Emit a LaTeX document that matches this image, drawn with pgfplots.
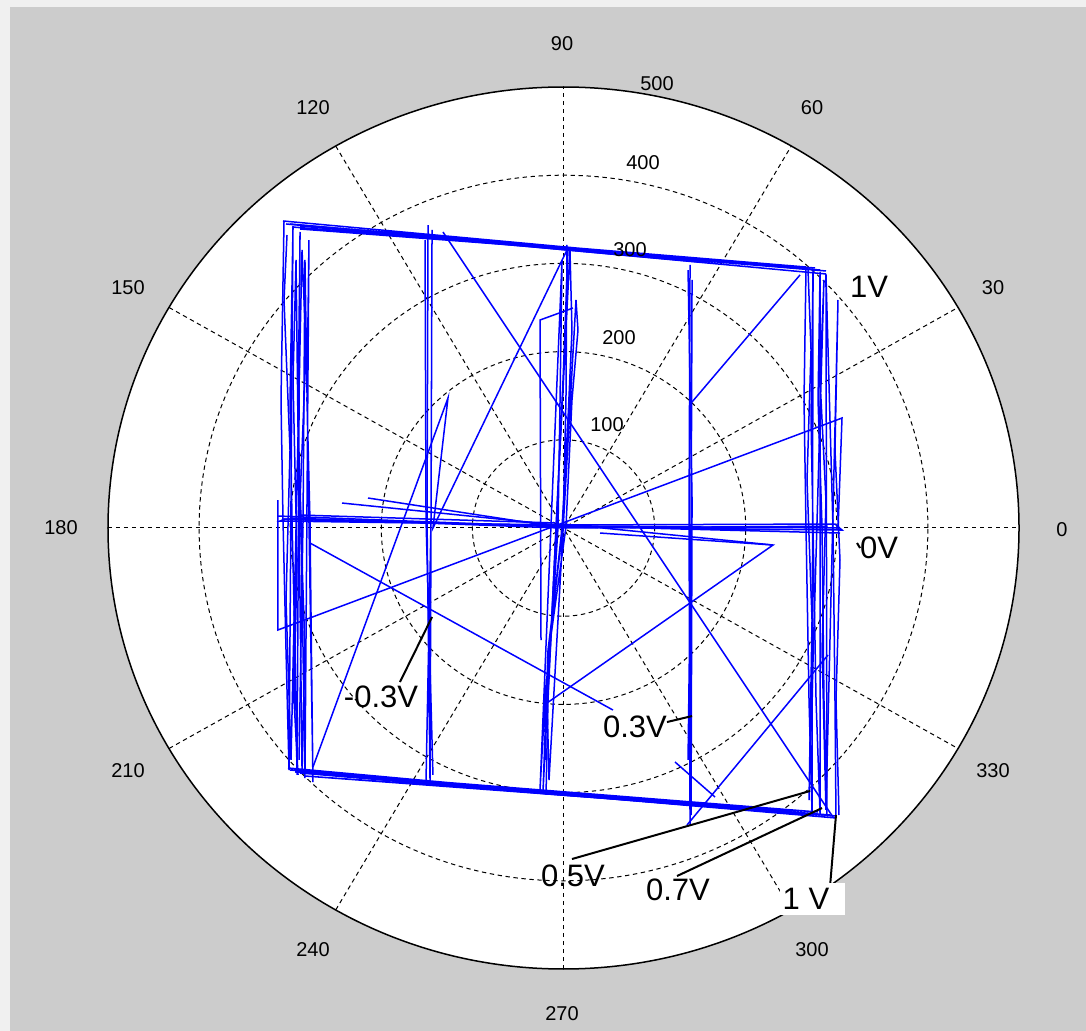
\documentclass[border=0pt]{standalone}
\usepackage{pgfplots}
\pgfplotsset{compat=1.18}
\usepackage{fontspec}
\setmainfont{Liberation Sans}
\definecolor{figgray}{RGB}{204,204,204}
\definecolor{edgecol}{RGB}{240,240,240}
\tikzset{gridline/.style={black, line width=0.5pt, dash pattern=on 2.2pt off 1.8pt}}
\pgfplotsset{trc/.style={color={rgb,255:red,0;green,0;blue,255}, line width=0.75pt, mark=none, forget plot},
  call/.style={black, line width=1pt, mark=none, forget plot}}
\begin{document}
\begin{tikzpicture}
\begin{scope}[x=0.5pt,y=-0.5pt]
\fill[edgecol] (0,0) rectangle (1086,1031);
\fill[figgray] (10,7) rectangle (1086,1031);
\end{scope}
\begin{axis}[at={(281.75pt,-264pt)}, anchor=center, scale only axis,
  width=455.5pt, height=441pt, xmin=-500, xmax=500, ymin=-500, ymax=500,
  axis lines=none, ticks=none, clip=false]
\fill[white] (axis cs:0,0) ellipse [x radius=500, y radius=500];
% grid
\draw[gridline] (axis cs:0,0) ellipse [x radius=100, y radius=100];
\draw[gridline] (axis cs:0,0) ellipse [x radius=200, y radius=200];
\draw[gridline] (axis cs:0,0) ellipse [x radius=300, y radius=300];
\draw[gridline] (axis cs:0,0) ellipse [x radius=400, y radius=400];
\draw[gridline] (axis cs:-500,0) -- (axis cs:500,0);
\draw[gridline] (axis cs:0,-500) -- (axis cs:0,500);
\draw[gridline] (axis cs:-433.01,-250) -- (axis cs:433.01,250);
\draw[gridline] (axis cs:-250,-433.01) -- (axis cs:250,433.01);
\draw[gridline] (axis cs:-433.01,250) -- (axis cs:433.01,-250);
\draw[gridline] (axis cs:-250,433.01) -- (axis cs:250,-433.01);
% top edge
\addplot[trc] coordinates {(-307.9,348.1) (288.1,291.4) (-298.0,341.3) (276.1,294.8) (-289.2,339.0) (266.2,295.9) (-304.6,344.7) (288.1,288.0)};
\addplot[trc] coordinates {(-300.2,344.7) (-3.8,317.5) (281.6,292.5)};
\addplot[trc] coordinates {(-289.2,342.4) (149.8,301.6)};
% bottom edge
\addplot[trc] coordinates {(-302.4,-272.1) (299.1,-328.8) (-294.7,-276.6) (292.5,-325.4) (-283.8,-281.2) (279.4,-322.0) (-300.2,-274.4) (299.1,-326.5)};
\addplot[trc] coordinates {(-289.2,-277.8) (-3.8,-302.7) (287.0,-325.4)};
\addplot[trc] coordinates {(-157.5,-289.1) (149.8,-315.2)};
% left band
\addplot[trc] coordinates {(-306.8,346.9) (-310.1,145.1) (-307.9,9.1) (-304.6,-138.3) (-301.3,-274.4) (-296.9,342.4) (-300.2,145.1) (-298.0,9.1) (-294.7,-138.3) (-292.5,-280.0) (-289.2,335.6) (-291.4,122.5) (-288.1,9.1) (-285.9,-138.3) (-283.8,-283.5) (-279.4,326.5) (-281.6,145.1) (-278.3,9.1) (-276.1,-195.0) (-275.0,-288.0) (-283.8,303.9) (-285.9,9.1) (-290.3,-263.0)};
\addplot[trc] coordinates {(-303.5,332.2) (-306.8,258.5) (-300.2,88.4) (-304.6,-81.6) (-299.1,-263.0) (-287.0,315.2) (-282.7,201.8) (-289.2,31.7) (-283.8,-138.3) (-287.0,-274.4) (-293.6,303.9) (-296.9,167.8) (-292.5,-36.3) (-295.8,-195.0) (-291.4,-280.0)};
% right band
\addplot[trc] coordinates {(266.2,294.8) (264.0,145.1) (266.2,0) (269.5,-195.0) (272.8,-322.0) (273.9,292.5) (271.7,122.5) (273.9,0) (277.2,-195.0) (281.6,-324.3) (281.6,290.3) (279.4,145.1) (283.8,0) (285.9,-195.0) (289.2,-326.5) (288.1,288.0) (292.5,122.5) (295.8,0) (298.0,-195.0) (299.1,-328.8)};
\addplot[trc] coordinates {(268.4,292.5) (271.7,201.8) (267.3,54.4) (272.8,-104.3) (269.5,-308.4) (285.9,281.2) (281.6,167.8) (288.1,31.7) (283.8,-138.3) (288.1,-319.7) (301.3,258.5) (298.0,88.4) (303.5,-36.3) (299.1,-195.0) (302.4,-325.4)};
% centre horizontal band
\addplot[trc] coordinates {(-313.4,13.6) (-0.5,1.1) (305.7,-2.3) (298.0,4.5) (-0.5,3.4) (-311.2,7.9) (-305.7,10.2) (303.5,-5.7)};
\addplot[trc] coordinates {(-300.2,11.3) (-3.8,0) (290.0,2.0)};
\addplot[trc] coordinates {(-309.0,10.2) (-3.8,2.3) (301.3,0)};
\addplot[trc] coordinates {(-289.2,14.7) (-9.3,5.7)};
% centre vertical bundle
\addplot[trc] coordinates {(3.8,320.9) (2.7,145.1) (-0.5,1.1) (-17.0,-138.3) (-22.5,-299.3) (7.1,315.2) (9.3,224.5) (4.9,122.5) (-1.6,1.1) (-14.8,-127.0) (-20.3,-195.0) (-25.8,-297.1) (-1.6,303.9) (-3.8,145.1) (-6.0,1.1) (-18.1,-195.0) (-15.9,-285.7) (13.7,258.5) (15.9,224.5) (9.3,145.1) (2.7,1.1) (-15.9,-138.3) (-20.3,-263.0)};
\addplot[trc] coordinates {(4.9,315.2) (-0.5,167.8) (-8.2,1.1) (-17.0,-195.0) (-19.2,-302.7)};
% -0.3 level vertical
\addplot[trc] coordinates {(-148.7,343.5) (-149.8,9.1) (-146.5,-288.0) (-144.3,337.9) (-145.4,9.1) (-150.9,-285.7)};
\addplot[trc] coordinates {(-152.0,326.5) (-150.9,9.1) (-143.3,-280.0)};
% 0.3 level vertical
\addplot[trc] coordinates {(138.9,298.2) (137.8,9.1) (138.9,-336.7) (141.1,281.2) (140.0,9.1) (136.7,-263.0)};
\addplot[trc] coordinates {(136.7,292.5) (141.1,31.7) (140.0,-325.4)};
\addplot[trc] coordinates {(10.4,249.4) (-25.8,235.8) (-24.7,-127.0)};
% diagonals
\addplot[trc] coordinates {(-132.3,335.6) (295.8,-327.7)};
\addplot[trc] coordinates {(3.8,315.2) (-143.3,0) (-126.8,147.4) (-275.0,-271.0)};
\addplot[trc] coordinates {(-313.4,31.7) (-313.4,-115.6) (305.7,124.7) (301.3,-2.3)};
\addplot[trc] coordinates {(141.1,142.9) (259.6,286.9)};
\addplot[trc] coordinates {(-278.3,-17.0) (54.3,-206.4)};
\addplot[trc] coordinates {(-0.5,4.5) (230.0,-19.3) (-18.1,-198.4)};
\addplot[trc] coordinates {(40.1,-5.7) (230.0,-19.3)};
\addplot[trc] coordinates {(135.6,-336.7) (290.3,-144.0)};
\addplot[trc] coordinates {(122.4,-265.3) (166.3,-305.0)};
\addplot[trc] coordinates {(-243.1,28.3) (-7.1,3.4)};
\addplot[trc] coordinates {(-214.6,34.0) (-7.1,1.1)};
% outer circle
\draw[black, line width=0.75pt] (axis cs:0,0) ellipse [x radius=500, y radius=500];
% callout lines
\addplot[call] coordinates {(-179.5,-174.6) (-144.3,-100.9)};
\addplot[call] coordinates {(113.6,-220.0) (141.1,-213.2)};
\addplot[call] coordinates {(9.3,-375.3) (270.6,-298.2)};
\addplot[call] coordinates {(124.6,-394.6) (283.8,-317.5)};
\addplot[call] coordinates {(292.5,-407.0) (299.1,-325.4)};
\addplot[call] coordinates {(322.2,-17.0) (325.5,-22.7)};
\end{axis}
\begin{scope}[x=0.5pt,y=-0.5pt]
\begin{scope}[every node/.style={font=\fontsize{10}{12}\selectfont, inner sep=0pt}]
\node at (1062,530) {0};
\node at (993,288) {30};
\node at (812,108) {60};
\node at (562,44) {90};
\node at (313,108) {120};
\node at (128,288) {150};
\node at (61,528) {180};
\node at (128,771) {210};
\node at (313,950) {240};
\node at (562,1014) {270};
\node at (812,950) {300};
\node at (993,771) {330};
\node at (607,425) {100};
\node at (619,338) {200};
\node at (630,250) {300};
\node at (643,163) {400};
\node at (657,84) {500};
\end{scope}
\fill[white] (780,883) rectangle (845,915);
\begin{scope}[every node/.style={font=\fontsize{15.5}{18}\selectfont, inner sep=0pt}]
\node at (869,287) {1V};
\node at (879,548) {0V};
\node at (381,697) {-0.3V};
\node at (635,727) {0.3V};
\node at (573,876) {0.5V};
\node at (678,890) {0.7V};
\node at (806,899) {1 V};
\end{scope}
\end{scope}
\end{tikzpicture}
\end{document}
